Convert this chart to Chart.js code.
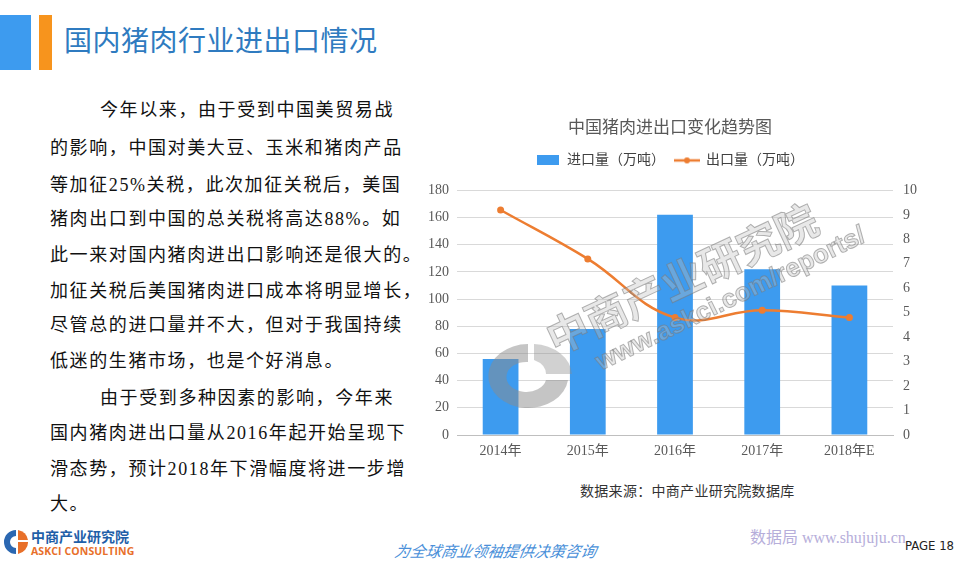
<!DOCTYPE html>
<html><head><meta charset="utf-8">
<script src="https://cdn.jsdelivr.net/npm/chart.js@4.4.1/dist/chart.umd.min.js"></script>
<style>
html,body{margin:0;padding:0;background:#fff;}
body{width:976px;height:563px;position:relative;overflow:hidden;font-family:"Liberation Serif","Noto Sans CJK SC",serif;}
.abs{position:absolute;white-space:nowrap;}
#para div{position:absolute;left:50px;font-size:18px;letter-spacing:1.6px;color:#111;line-height:20px;}
#chartBox{position:absolute;left:415px;top:112px;width:510px;height:360px;}
.wm{position:absolute;white-space:nowrap;line-height:1;color:rgba(190,190,190,0.35);-webkit-text-stroke:1px rgba(120,120,120,0.55);font-family:"Noto Sans CJK SC",sans-serif;font-weight:bold;transform-origin:0 0;pointer-events:none;}
</style></head>
<body>
<div class="abs" style="left:0;top:15px;width:31px;height:55px;background:#3D9BEF;"></div>
<div class="abs" style="left:39px;top:15px;width:13px;height:55px;background:#F7941D;"></div>
<div class="abs" style="left:64px;top:21px;font-family:'Noto Sans CJK SC',sans-serif;font-size:28px;line-height:36px;color:#2F7BC0;letter-spacing:0.5px;">国内猪肉行业进出口情况</div>

<div id="para">
<div style="top:100px;left:100px;">今年以来，由于受到中国美贸易战</div>
<div style="top:138px;">的影响，中国对美大豆、玉米和猪肉产品</div>
<div style="top:175px;">等加征25%关税，此次加征关税后，美国</div>
<div style="top:209px;">猪肉出口到中国的总关税将高达88%。如</div>
<div style="top:245px;">此一来对国内猪肉进出口影响还是很大的。</div>
<div style="top:281px;">加征关税后美国猪肉进口成本将明显增长，</div>
<div style="top:315px;">尽管总的进口量并不大，但对于我国持续</div>
<div style="top:351px;">低迷的生猪市场，也是个好消息。</div>
<div style="top:388px;left:100px;">由于受到多种因素的影响，今年来</div>
<div style="top:423px;">国内猪肉进出口量从2016年起开始呈现下</div>
<div style="top:459px;">滑态势，预计2018年下滑幅度将进一步增</div>
<div style="top:494px;">大。</div>
</div>

<div id="chartBox"><canvas id="c"></canvas></div>

<svg class="abs" style="left:484px;top:340px;pointer-events:none;" width="92" height="72" viewBox="0 0 92 72">
<path d="M44 4 A40 32 0 1 0 84 40 L62 40 A20 15 0 1 1 44 22 Z" fill="rgba(140,140,140,0.5)"/>
<path d="M50 4 A40 32 0 0 1 88 34 L62 34 A22 16 0 0 0 50 20 Z" fill="rgba(140,140,140,0.4)"/>
</svg>
<div class="wm" style="left:539px;top:320px;font-size:42px;transform:rotate(-25deg);">中商产业研究院</div>
<div class="wm" style="left:591px;top:351px;font-size:26px;transform:rotate(-26deg);font-family:'Liberation Sans',sans-serif;">www.askci.com/reports/</div>

<div class="abs" style="left:580px;top:480px;font-size:14px;color:#333;letter-spacing:0.3px;">数据来源：中商产业研究院数据库</div>

<svg class="abs" style="left:4px;top:528px;" width="24" height="28" viewBox="0 0 24 28">
<path d="M12 2 A12 12 0 0 0 12 26 L12 20 A6 6 0 0 1 12 8 Z" fill="#2B67B1"/>
<path d="M14 2 A12 12 0 0 1 24 12 L14 12 Z" fill="#E8702A"/>
<path d="M14 14 L24 14 A12 12 0 0 1 14 26 Z" fill="#E8702A"/>
</svg>
<div class="abs" style="left:31px;top:528px;font-family:'Noto Sans CJK SC',sans-serif;font-weight:bold;font-size:14px;line-height:16px;color:#1F5FA8;">中商产业研究院</div>
<div class="abs" style="left:31px;top:545px;font-family:'Open Sans',sans-serif;font-weight:bold;font-size:10.5px;line-height:13px;color:#E8702A;letter-spacing:0.1px;">ASKCI CONSULTING</div>
<div class="abs" style="left:395px;top:540px;font-family:'Noto Sans CJK SC',sans-serif;font-style:italic;font-size:15.5px;line-height:20px;color:#4A90D9;transform:skewX(-10deg);">为全球商业领袖提供决策咨询</div>
<div class="abs" style="left:750px;top:528px;font-size:16px;line-height:20px;color:#B6AEDA;">数据局 www.shujuju.cn</div>
<div class="abs" style="left:905px;top:538px;font-family:'DejaVu Sans Condensed','Liberation Sans Narrow',sans-serif;font-size:13px;line-height:16px;color:#222;">PAGE 18</div>

<script>
const categories = ["2014年", "2015年", "2016年", "2017年", "2018年E"];
const importVolume = [56, 78, 162, 122, 110];
const exportVolume = [9.2, 7.2, 4.8, 5.1, 4.8];
const importLabel = "进口量（万吨）";
const exportLabel = "出口量（万吨）";
const chartTitle = "中国猪肉进出口变化趋势图";

const BLUE = "#3D9BEF";
const ORANGE = "#ED7D31";
const FONT = '"Liberation Serif","Noto Sans CJK SC",serif';

function makeBarIcon(){
  const c = document.createElement("canvas"); c.width = 22; c.height = 10;
  const x = c.getContext("2d"); x.fillStyle = BLUE; x.fillRect(0,0,22,10); return c;
}
function makeLineIcon(){
  const c = document.createElement("canvas"); c.width = 26; c.height = 10;
  const x = c.getContext("2d"); x.strokeStyle = ORANGE; x.lineWidth = 2.5;
  x.beginPath(); x.moveTo(0,5); x.lineTo(26,5); x.stroke();
  x.fillStyle = ORANGE; x.beginPath(); x.arc(13,5,3,0,Math.PI*2); x.fill(); return c;
}
const barIcon = makeBarIcon(), lineIcon = makeLineIcon();

const legendMargin = {
  id: "legendMargin",
  beforeInit(chart) {
    const origFit = chart.legend.fit;
    chart.legend.fit = function () { origFit.bind(chart.legend)(); this.height += 13; };
  }
};

new Chart(document.getElementById("c"), {
  plugins: [legendMargin],
  data: {
    labels: categories,
    datasets: [
      { type: "bar", label: importLabel, data: importVolume, backgroundColor: BLUE,
        yAxisID: "y", order: 1, categoryPercentage: 0.82, barPercentage: 0.5 },
      { type: "line", label: exportLabel, data: exportVolume, borderColor: ORANGE,
        backgroundColor: ORANGE, borderWidth: 2.5, pointRadius: 3.5, pointBackgroundColor: ORANGE,
        pointBorderWidth: 0, tension: 0.4, yAxisID: "y1", order: 0 }
    ]
  },
  options: {
    responsive: true, maintainAspectRatio: false, animation: false,
    layout: { padding: { left: 0, right: 0, top: 0, bottom: 0 } },
    plugins: {
      tooltip: { enabled: false },
      title: { display: true, text: chartTitle, color: "#595959",
        font: { family: FONT, size: 17, weight: "normal" }, padding: { top: 6, bottom: 5 } },
      legend: {
        display: true, position: "top",
        labels: {
          usePointStyle: true, pointStyleWidth: 24, padding: 10, color: "#404040",
          font: { family: FONT, size: 14 },
          generateLabels: (chart) => [
            { text: importLabel, pointStyle: barIcon, datasetIndex: 0, fontColor: "#404040", lineWidth: 0, strokeStyle: "rgba(0,0,0,0)", fillStyle: BLUE },
            { text: exportLabel, pointStyle: lineIcon, datasetIndex: 1, fontColor: "#404040", lineWidth: 0, strokeStyle: "rgba(0,0,0,0)", fillStyle: ORANGE }
          ]
        }
      }
    },
    scales: {
      x: {
        grid: { display: false, drawTicks: false },
        border: { display: true, color: "#BFBFBF", width: 1 },
        ticks: { color: "#595959", font: { family: FONT, size: 14 }, padding: 8 },
        afterFit: (s) => { s.height = 37; }
      },
      y: {
        position: "left", min: 0, max: 180,
        ticks: { stepSize: 20, color: "#595959", font: { family: FONT, size: 14 }, padding: 8 },
        grid: { color: "#D9D9D9", drawTicks: false },
        border: { display: false },
        afterFit: (s) => { s.width = 42; }
      },
      y1: {
        position: "right", min: 0, max: 10,
        ticks: { stepSize: 1, color: "#595959", font: { family: FONT, size: 14 }, padding: 10 },
        grid: { display: false, drawTicks: false },
        border: { display: false },
        afterFit: (s) => { s.width = 32; }
      }
    }
  }
});
</script>
</body></html>
